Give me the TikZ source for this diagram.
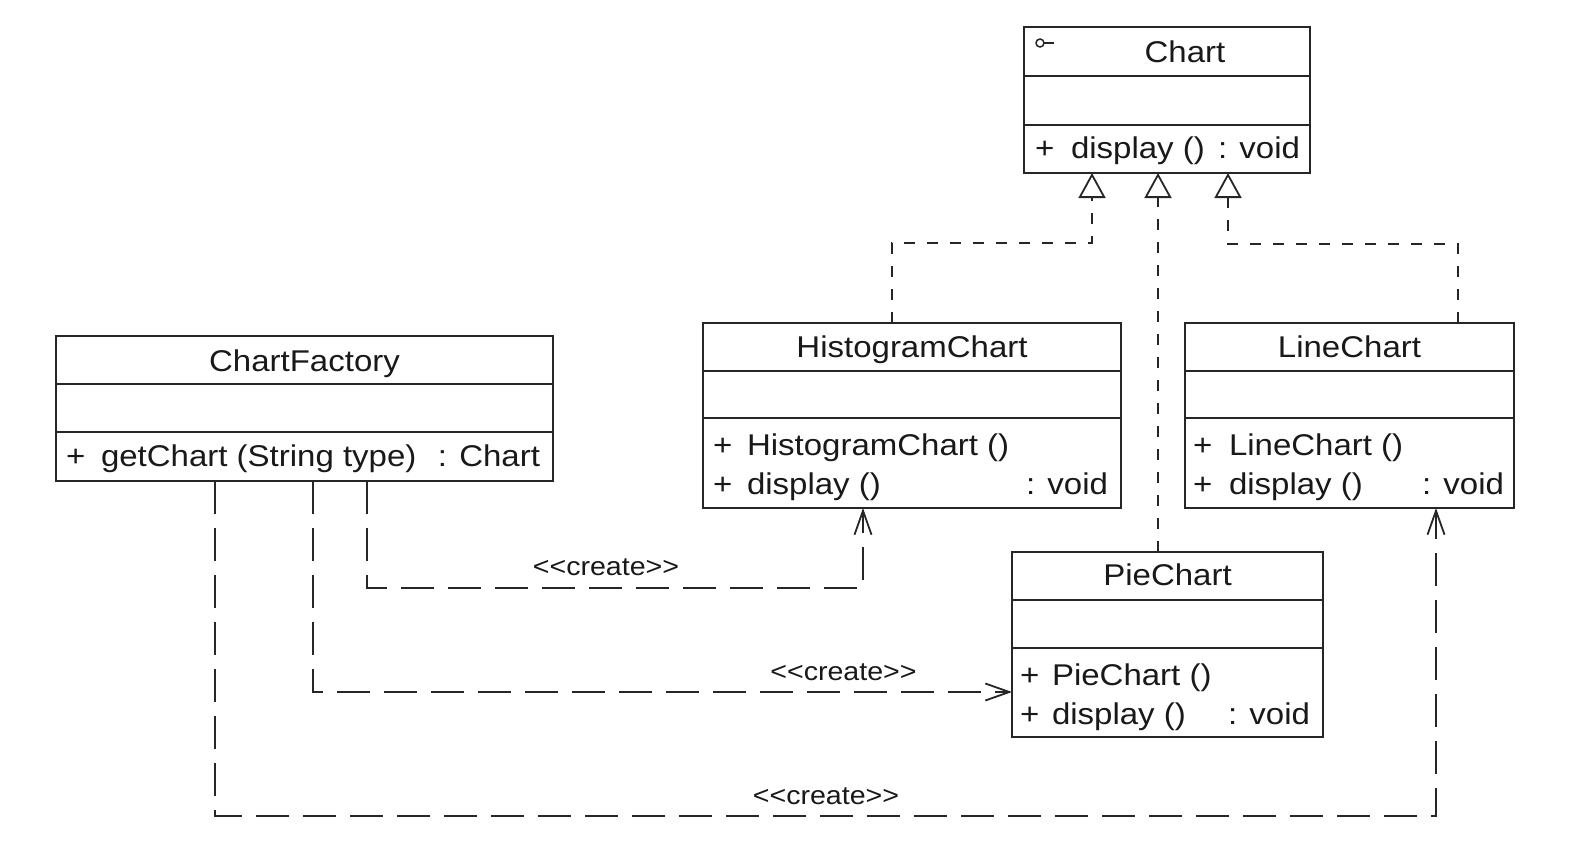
\documentclass[tikz,border=0pt]{standalone}
\usepackage{fontspec}
\setmainfont{Liberation Sans}[FakeStretch=1.1]
\usetikzlibrary{arrows.meta}
\begin{document}
\begin{tikzpicture}[x=1pt,y=-1pt,
  every node/.style={inner sep=0pt, outer sep=0pt},
  classbox/.style={draw=black!85, line width=1.8pt, rectangle},
  divider/.style={draw=black!85, line width=1.8pt},
  txt/.style={font=\fontsize{30}{36}\selectfont, text=black!90},
  lbl/.style={font=\fontsize{26}{30}\selectfont, text=black!90},
  realize/.style={draw=black!85, line width=1.8pt, dash pattern=on 11pt off 12pt,
    -{Triangle[open,length=25pt,width=27pt,line width=1.8pt]}},
  dep/.style={draw=black!85, line width=1.8pt, dash pattern=on 33pt off 14pt,
    -{Straight Barb[length=24pt,width=17pt,line width=1.8pt]}},
]
\useasboundingbox[fill=white] (0,0) rectangle (1584,857);

% ---- Chart (interface)
\node[classbox, minimum width=286pt, minimum height=146pt] (chart) at (1167,100) {};
\draw[divider] (1024,76) -- (1310,76);
\draw[divider] (1024,125) -- (1310,125);
\draw[line width=1.5pt, draw=black!85] (1040,43) circle (4pt);
\draw[line width=1.5pt, draw=black!85] (1044,43) -- (1054,43);
\node[txt, anchor=base] (chartT) at (1185,62) {Chart};
\node[txt, anchor=base west] (chartP) at (1035,158) {+};
\node[txt, anchor=base west] (chartM) at (1071,158) {display ()};
\node[txt, anchor=base east] (chartR) at (1300,158) {: void};

% ---- ChartFactory
\node[classbox, minimum width=497pt, minimum height=145pt] (factory) at (304.5,408.5) {};
\draw[divider] (56,384) -- (553,384);
\draw[divider] (56,432) -- (553,432);
\node[txt, anchor=base] (factoryT) at (304.5,371) {ChartFactory};
\node[txt, anchor=base west] (factoryP) at (66,466) {+};
\node[txt, anchor=base west] (factoryM) at (101,466) {getChart (String type)};
\node[txt, anchor=base east] (factoryR) at (540,466) {: Chart};

% ---- HistogramChart
\node[classbox, minimum width=418pt, minimum height=185pt] (hist) at (912,415.5) {};
\draw[divider] (703,371) -- (1121,371);
\draw[divider] (703,418) -- (1121,418);
\node[txt, anchor=base] (histT) at (912,357) {HistogramChart};
\node[txt, anchor=base west] (histP1) at (713,455) {+};
\node[txt, anchor=base west] (histM1) at (747,455) {HistogramChart ()};
\node[txt, anchor=base west] (histP2) at (713,494) {+};
\node[txt, anchor=base west] (histM2) at (747,494) {display ()};
\node[txt, anchor=base east] (histR2) at (1108,494) {: void};

% ---- LineChart
\node[classbox, minimum width=329pt, minimum height=185pt] (line) at (1349.5,415.5) {};
\draw[divider] (1185,371) -- (1514,371);
\draw[divider] (1185,418) -- (1514,418);
\node[txt, anchor=base] (lineT) at (1349.5,357) {LineChart};
\node[txt, anchor=base west] (lineP1) at (1193,455) {+};
\node[txt, anchor=base west] (lineM1) at (1229,455) {LineChart ()};
\node[txt, anchor=base west] (lineP2) at (1193,494) {+};
\node[txt, anchor=base west] (lineM2) at (1229,494) {display ()};
\node[txt, anchor=base east] (lineR2) at (1504,494) {: void};

% ---- PieChart
\node[classbox, minimum width=311pt, minimum height=185pt] (pie) at (1167.5,644.5) {};
\draw[divider] (1012,600) -- (1323,600);
\draw[divider] (1012,648) -- (1323,648);
\node[txt, anchor=base] (pieT) at (1167.5,585) {PieChart};
\node[txt, anchor=base west] (pieP1) at (1020,685) {+};
\node[txt, anchor=base west] (pieM1) at (1052,685) {PieChart ()};
\node[txt, anchor=base west] (pieP2) at (1020,724) {+};
\node[txt, anchor=base west] (pieM2) at (1052,724) {display ()};
\node[txt, anchor=base east] (pieR2) at (1310,724) {: void};

% ---- realizations
\coordinate (h1) at (892,243);
\coordinate (h2) at (1092,243);
\draw[realize] (hist.north -| h1) -- (h1) -- (h2) -- (chart.south -| h2);
\coordinate (p1) at (1158,300);
\draw[realize] (pie.north -| p1) -- (chart.south -| p1);
\coordinate (l1) at (1458,244);
\coordinate (l2) at (1228,244);
\draw[realize] (line.north -| l1) -- (l1) -- (l2) -- (chart.south -| l2);

% ---- dependencies
\coordinate (d1a) at (367,588);
\coordinate (d1b) at (863,588);
\draw[dep] (factory.south -| d1a) -- (d1a) -- (d1b) -- (hist.south -| d1b);
\coordinate (d2a) at (313,692);
\draw[dep] (factory.south -| d2a) -- (d2a) -- (pie.west |- d2a);
\coordinate (d3a) at (215,816);
\coordinate (d3b) at (1436,816);
\draw[dep] (factory.south -| d3a) -- (d3a) -- (d3b) -- (line.south -| d3b);

\node[lbl] (c1) at (606,567) {<{}<create>{}>};
\node[lbl] (c2) at (843.5,672) {<{}<create>{}>};
\node[lbl] (c3) at (826,796) {<{}<create>{}>};
\end{tikzpicture}
\end{document}
